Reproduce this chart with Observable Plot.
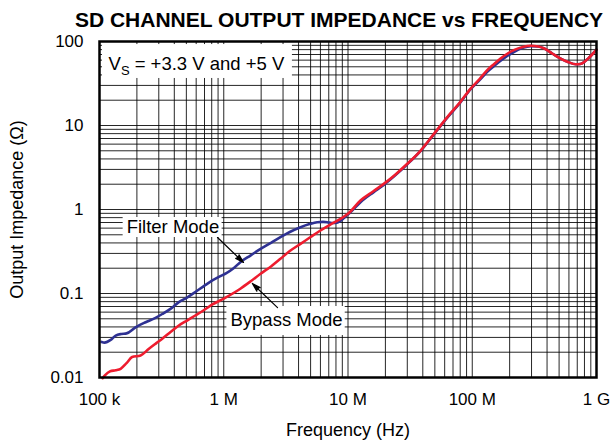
<!DOCTYPE html>
<html><head><meta charset="utf-8">
<script src="https://cdn.jsdelivr.net/npm/d3@7"></script>
<script src="https://cdn.jsdelivr.net/npm/@observablehq/plot@0.6"></script>
<style>
body{margin:0;background:#fff}
svg{font-family:"Liberation Sans",Arial,Helvetica,sans-serif}
</style>
</head><body><div id="chart"></div>
<script>
// ---- data ----
const filterFreq = [1.04e5,1.1e5,1.23e5,1.35e5,1.5e5,1.65e5,1.95e5,2.35e5,2.8e5,3.2e5,3.8e5,4.35e5,5.1e5,5.9e5,7e5,8.1e5,9.3e5,1.05e6,1.2e6,1.36e6,1.65e6,1.98e6,2.4e6,2.86e6,3.4e6,4.15e6,4.9e6,5.65e6,6.3e6,6.8e6,7.4e6,7.93e6,8.7e6,9.5e6,1.05e7,1.26e7,1.6e7,1.94e7,2.4e7,3e7,3.83e7,4.9e7,6.3e7,8e7,9.7e7,1.15e8,1.32e8,1.5e8,1.69e8,1.9e8,2.16e8,2.55e8,2.95e8,3.4e8,3.8e8,4.4e8,5.1e8,5.9e8,6.8e8,7.4e8,7.9e8,8.6e8,9.3e8,1e9];
const filterZ    = [0.0265,0.026,0.028,0.0316,0.033,0.0335,0.0396,0.0455,0.051,0.057,0.067,0.079,0.09,0.104,0.124,0.143,0.16,0.175,0.2,0.236,0.285,0.34,0.4,0.468,0.54,0.615,0.67,0.706,0.712,0.706,0.69,0.69,0.73,0.82,0.93,1.22,1.6,1.96,2.55,3.45,4.95,7.8,12.4,18.7,27,35,43.5,51,59,67,75,84,88,87,82.6,72,63,57,53.5,54,56.5,63,71,80];
const bypassFreq = [1.06e5,1.1e5,1.22e5,1.35e5,1.48e5,1.65e5,1.83e5,2.14e5,2.5e5,2.85e5,3.2e5,3.75e5,4.35e5,5.1e5,5.9e5,7e5,8.1e5,1e6,1.36e6,1.65e6,1.98e6,2.4e6,2.86e6,3.4e6,4.15e6,5e6,6e6,7.2e6,8.7e6,1.01e7,1.26e7,1.6e7,1.94e7,2.4e7,3e7,3.83e7,4.9e7,6.3e7,8e7,9.7e7,1.15e8,1.32e8,1.5e8,1.69e8,1.9e8,2.16e8,2.55e8,2.95e8,3.4e8,3.8e8,4.4e8,5.1e8,5.9e8,6.8e8,7.4e8,7.9e8,8.6e8,9.3e8,1e9];
const bypassZ    = [0.0098,0.0105,0.0119,0.0122,0.0127,0.0148,0.0175,0.0183,0.022,0.0255,0.029,0.035,0.0416,0.048,0.0547,0.064,0.074,0.087,0.114,0.14,0.172,0.21,0.259,0.32,0.39,0.47,0.562,0.66,0.775,0.9,1.28,1.65,2.02,2.6,3.5,5.0,7.9,12.6,19,27.5,36,45.6,54,62.8,71,78.8,86,89,87,82.6,72,63,57,53.5,54,56.5,63,71,80];

const xTickValues = [1e5,1e6,1e7,1e8,1e9];
const xTickLabels = ["100 k","1 M","10 M","100 M","1 G"];
const yTickValues = [0.01,0.1,1,10,100];
const yTickLabels = ["0.01","0.1","1","10","100"];
const xDecades = [1e5,1e6,1e7,1e8];
const yDecades = [0.01,0.1,1,10];
const gridMultipliers = [1,2,3,4,5,6,7,8,9];

const titleText = "SD CHANNEL OUTPUT IMPEDANCE vs FREQUENCY";
const xLabel = "Frequency (Hz)";
const yLabel = "Output Impedance (\u03A9)";

// annotation labels: text, anchor point, box, arrow (in data units)
const labelNames = ["Filter Mode","Bypass Mode"];
const labelX = [3.9e5, 3.2e6];
const labelY = [0.611, 0.0477];
const boxX1 = [1.55e5, 1.06e6];
const boxX2 = [9.7e5, 9.5e6];
const boxY1 = [0.464, 0.0316];
const boxY2 = [0.803, 0.070];
const arrowX1 = [8.91e5, 2.71e6];
const arrowY1 = [0.464, 0.068];
const arrowX2 = [1.442e6, 1.70e6];
const arrowY2 = [0.234, 0.1315];
const condBox = {x1:1.057e5, x2:3.57e6, y1:36.3, y2:92};

// ---- tables ----
const filter = filterFreq.map((f,i)=>({f, z:filterZ[i]}));
const bypass = bypassFreq.map((f,i)=>({f, z:bypassZ[i]}));
const gridX = xDecades.flatMap(d=>gridMultipliers.map(m=>d*m)).concat([1e9]);
const gridY = yDecades.flatMap(d=>gridMultipliers.map(m=>d*m)).concat([100]);
const labels = labelNames.map((t,i)=>({t, x:labelX[i], y:labelY[i], bx1:boxX1[i], bx2:boxX2[i], by1:boxY1[i], by2:boxY2[i], ax1:arrowX1[i], ay1:arrowY1[i], ax2:arrowX2[i], ay2:arrowY2[i]}));

const chart = Plot.plot({
  width: 610, height: 447,
  marginLeft: 99, marginRight: 14, marginTop: 41, marginBottom: 70,
  style: {background:"#fff", color:"#000", fontSize:"17px", fontFamily:'"Liberation Sans",Arial,sans-serif'},
  x: {type:"log", domain:[1e5,1e9]},
  y: {type:"log", domain:[0.01,100]},
  marks: [
    Plot.ruleX(gridX, {stroke:"#000", strokeWidth:1, strokeOpacity:0.85}),
    Plot.ruleY(gridY, {stroke:"#000", strokeWidth:1, strokeOpacity:0.85}),
    Plot.rect([condBox], {x1:"x1", x2:"x2", y1:"y1", y2:"y2", fill:"#fff"}),
    Plot.rect(labels, {x1:"bx1", x2:"bx2", y1:"by1", y2:"by2", fill:"#fff"}),
    Plot.line(filter, {x:"f", y:"z", stroke:"#2e3192", strokeWidth:2.6, curve:"monotone-x"}),
    Plot.line(bypass, {x:"f", y:"z", stroke:"#ee1c2e", strokeWidth:2.6, curve:"monotone-x"}),
    Plot.arrow(labels, {x1:"ax1", y1:"ay1", x2:"ax2", y2:"ay2", stroke:"#000", fill:"#000", strokeWidth:1.2, headLength:11, headAngle:32}),
    Plot.text(labels, {x:"x", y:"y", text:"t", fontSize:18.5, textAnchor:"middle", lineAnchor:"middle", fill:"#000"}),
    Plot.text(["V"], {frameAnchor:"top-left", dx:9, dy:15, textAnchor:"start", lineAnchor:"top", fontSize:18.5}),
    Plot.text(["S"], {frameAnchor:"top-left", dx:21.5, dy:24, textAnchor:"start", lineAnchor:"top", fontSize:13}),
    Plot.text([" = +3.3 V and +5 V"], {frameAnchor:"top-left", dx:30, dy:15, textAnchor:"start", lineAnchor:"top", fontSize:18.5}),
    Plot.frame({stroke:"#000", strokeWidth:2.5}),
    Plot.axisX(xTickValues, {tickSize:0, tickPadding:15, fontSize:17, label:null, tickFormat:d=>xTickLabels[xTickValues.indexOf(d)]}),
    Plot.axisY(yTickValues, {tickSize:0, tickPadding:16, fontSize:17, label:null, tickFormat:d=>yTickLabels[yTickValues.indexOf(d)]}),
    Plot.text([xLabel], {frameAnchor:"bottom", dy:53, fontSize:18, textAnchor:"middle", lineAnchor:"middle"}),
    Plot.text([yLabel], {frameAnchor:"left", dx:-82, rotate:-90, fontSize:18, textAnchor:"middle", lineAnchor:"middle"}),
    Plot.text([titleText], {frameAnchor:"top", dy:-21, dx:-9, fontSize:21, fontWeight:"bold", textAnchor:"middle", lineAnchor:"middle"})
  ]
});
document.getElementById("chart").appendChild(chart);
</script>
</body></html>
